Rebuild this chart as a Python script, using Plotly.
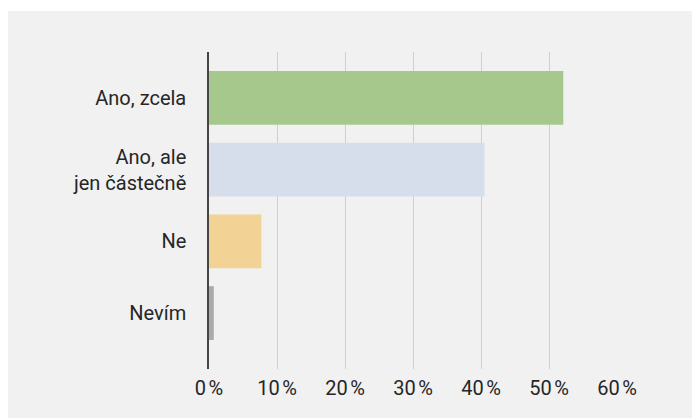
import plotly.graph_objects as go

categories = ["Ano, zcela", "Ano, ale<br>jen částečně", "Ne", "Nevím"]
values = [0.521, 0.405, 0.077, 0.007]
colors = ["#a7c88d", "#d6deec", "#f2d295", "#aaaaaa"]
tick_vals = [0, 0.1, 0.2, 0.3, 0.4, 0.5, 0.6]
tick_text = ["0\u202f%", "10\u202f%", "20\u202f%", "30\u202f%", "40\u202f%", "50\u202f%", "60\u202f%"]

fig = go.Figure(go.Bar(
    x=values,
    y=categories,
    orientation="h",
    marker=dict(color=colors, line=dict(width=0)),
    width=0.75,
    hoverinfo="skip",
))

# white strip above the grey panel
fig.add_shape(type="rect", xref="paper", yref="paper",
              x0=-1, x1=2, y0=1 + 41 / 317, y1=1 + 46 / 317,
              fillcolor="white", line=dict(width=0), layer="above")

fig.update_layout(
    width=692,
    height=410,
    margin=dict(l=201, r=83, t=44, b=49),
    paper_bgcolor="#f1f1f1",
    plot_bgcolor="#f1f1f1",
    font=dict(family="Roboto", size=20, color="#262626"),
    showlegend=False,
    xaxis=dict(
        range=[0, 0.6],
        tickvals=tick_vals,
        ticktext=tick_text,
        showgrid=True,
        gridcolor="#c8cfe2",
        gridwidth=1,
        zeroline=False,
        showline=False,
        ticks="",
        ticklabelstandoff=5,
        fixedrange=True,
    ),
    yaxis=dict(
        type="category",
        categoryorder="array",
        categoryarray=categories,
        range=[3.78, -0.64],
        showgrid=False,
        zeroline=False,
        showline=True,
        linecolor="#444444",
        linewidth=1.5,
        ticks="",
        ticklabelstandoff=17,
        fixedrange=True,
    ),
)

fig.write_html("out.html")
